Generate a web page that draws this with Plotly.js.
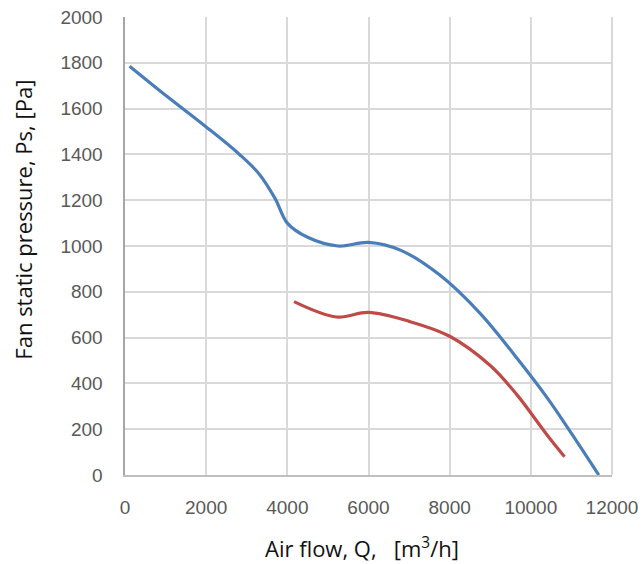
<!DOCTYPE html>
<html><head><meta charset="utf-8">
<script src="https://cdn.plot.ly/plotly-3.0.1.min.js"></script>
<style>body{margin:0;background:#fff}#c{width:644px;height:564px}</style>
</head><body><div id="c"></div>
<script>
const blueQ  = [113, 1000, 2000, 2800, 3300, 3700, 4000, 4500, 5250, 6000, 6800, 7750, 8750, 9650, 10400, 11000, 11675];
const blueP  = [1785, 1658, 1520, 1403, 1316, 1207, 1100, 1038, 1000, 1016, 981, 874, 706, 512, 338, 182, 0];
const redQ   = [4165, 5215, 6000, 7000, 8000, 9000, 9650, 10400, 10830];
const redP   = [757, 690, 710, 671, 606, 478, 352, 175, 80];
const xTicks = [0, 2000, 4000, 6000, 8000, 10000, 12000];
const yTicks = [0, 200, 400, 600, 800, 1000, 1200, 1400, 1600, 1800, 2000];
const xTitle = "Air flow, Q,\u00a0\u00a0\u00a0[m<sup>3</sup>/h]";
const yTitle = "Fan static pressure, Ps, [Pa]";

const tickFont = {family: "Liberation Sans, Arial, sans-serif", size: 19, color: "#595959"};
const titleFont = {family: "Open Sans, sans-serif", size: 22, color: "#111"};
const data = [
  {x: blueQ, y: blueP, mode: "lines", line: {color: "#4a7ebb", width: 3.2, shape: "spline", smoothing: 1}, hoverinfo: "skip"},
  {x: redQ, y: redP, mode: "lines", line: {color: "#be4b48", width: 3.2, shape: "spline", smoothing: 1}, hoverinfo: "skip"}
];
const layout = {
  width: 644, height: 564,
  margin: {l: 125, r: 32, t: 17, b: 89},
  showlegend: false,
  paper_bgcolor: "#fff", plot_bgcolor: "#fff",
  xaxis: {range: [0, 12000], tickvals: xTicks, ticktext: xTicks.map(String),
          showgrid: true, gridcolor: "#d9d9d9", gridwidth: 2, zeroline: false,
          showline: true, linecolor: "#bfbfbf", linewidth: 2,
          ticks: "", tickfont: tickFont, ticklabelstandoff: 14},
  yaxis: {range: [0, 2000], tickvals: yTicks, ticktext: yTicks.map(String),
          showgrid: true, gridcolor: "#d9d9d9", gridwidth: 2, zeroline: false,
          showline: true, linecolor: "#a6a6a6", linewidth: 2.5,
          ticks: "", tickfont: tickFont, ticklabelstandoff: 16},
  shapes: [{type: "line", xref: "paper", yref: "paper", x0: 1, x1: 1, y0: 0, y1: 1, line: {color: "#d9d9d9", width: 2}}],
  annotations: [
    {text: xTitle, xref: "paper", yref: "paper", x: 0.487, y: -0.158, xanchor: "center", yanchor: "middle", showarrow: false, font: titleFont},
    {text: yTitle, xref: "paper", yref: "paper", x: -0.209, y: 0.558, xanchor: "center", yanchor: "middle", textangle: -90, showarrow: false, font: titleFont}
  ]
};
Plotly.newPlot("c", data, layout, {staticPlot: true, displayModeBar: false});
</script></body></html>
